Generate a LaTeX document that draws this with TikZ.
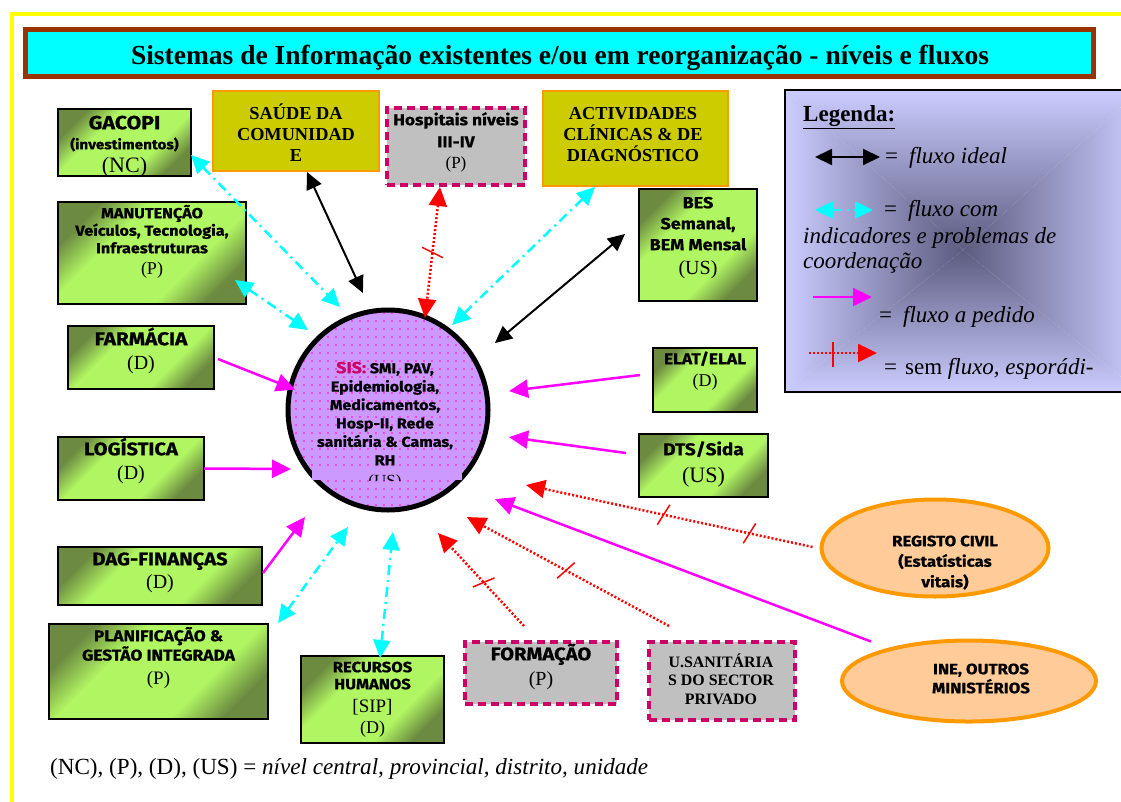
\documentclass[tikz,border=0pt]{standalone}
\usepackage{fontspec}
\setmainfont{Liberation Serif}
\newfontfamily\sbf{Fira Sans}[FakeStretch=1.12, BoldFeatures={FakeBold=0.8}]
\usetikzlibrary{arrows.meta,shapes.geometric,fit,patterns.meta,decorations.markings}
\definecolor{glight}{RGB}{176,245,98}
\definecolor{gdark}{RGB}{108,138,64}
\definecolor{olivef}{RGB}{204,204,0}
\definecolor{orangeb}{RGB}{255,153,0}
\definecolor{greyf}{RGB}{192,192,192}
\definecolor{dashc}{RGB}{204,0,102}
\definecolor{cyanc}{RGB}{0,255,255}
\definecolor{brownc}{RGB}{153,51,0}
\definecolor{legl}{RGB}{204,204,255}
\definecolor{legm}{RGB}{148,148,192}
\definecolor{legd}{RGB}{92,92,128}
\definecolor{peach}{RGB}{255,204,153}
\definecolor{sislav}{RGB}{204,153,255}
\definecolor{dotc}{RGB}{255,0,204}
\definecolor{magc}{RGB}{255,0,255}
\definecolor{redc}{RGB}{255,0,0}
\definecolor{sisred}{RGB}{204,0,102}
\definecolor{framey}{RGB}{255,255,0}
\newcommand\fz[2]{\fontsize{#1}{#2}\selectfont}
\newcommand\sbt[2]{{\sbf\bfseries\fontsize{#1}{#1}\selectfont #2}}
\newcommand\rmt[2]{{\fontsize{#1}{#1}\selectfont #2}}
\newcommand\rbt[2]{{\bfseries\fontsize{#1}{#1}\selectfont #2}}
\newcommand\fst{\rule{0pt}{20pt}}
\pgfdeclareverticalshading{legv}{100bp}{color(0bp)=(legd); color(25bp)=(legd); color(50bp)=(legm); color(75bp)=(legl); color(100bp)=(legl)}
\pgfdeclareverticalshading{gsh}{100bp}{color(0bp)=(gdark); color(25bp)=(gdark); color(37bp)=(glight); color(63bp)=(glight); color(75bp)=(gdark); color(100bp)=(gdark)}
\tikzset{
  box/.style={inner sep=0pt, outer sep=0pt},
  greenbox/.style={box, draw=black, line width=2.5pt, shading=gsh, shading angle=45},
  olivebox/.style={box, draw=orangeb, line width=2pt, fill=olivef},
  greybox/.style={box, draw=dashc, line width=3.5pt, dash pattern=on 8pt off 5pt, fill=greyf},
  ell/.style={ellipse, box, draw=orangeb, line width=4pt, fill=peach},
  txt/.style={align=center, inner sep=0pt, anchor=north},
  lt/.style={inner sep=0pt, anchor=base west, font=\fz{23}{26}},
  ideal/.style={draw=black, line width=2pt, <->, >={Triangle[length=17pt,width=16pt]}},
  coordf/.style={draw=cyanc, line width=2.5pt, dash pattern=on 10pt off 5pt on 2pt off 5pt, <->, >={Triangle[length=18pt,width=17pt]}},
  pedido/.style={draw=magc, line width=2.5pt, ->, >={Triangle[length=19pt,width=18pt]}},
  semfluxo/.style={draw=redc, line width=2.5pt, dash pattern=on 2pt off 2pt, >={Triangle[length=19pt,width=18pt]}},
  tick/.style={postaction={decorate, decoration={markings, mark=at position #1 with {\draw[redc, line width=1.5pt, solid, -] (-4pt,-11pt) -- (4pt,11pt);}}}},
}
\begin{document}
\begin{tikzpicture}[x=1pt, y=-1pt]
\useasboundingbox (0,0) rectangle (1121,801);
\fill[white] (0,0) rectangle (1121,801);
\draw[framey, line width=4pt] (12,14) rectangle (1140,820);
% title
\node[box, fit={(25,29)(1093.5,76)}, draw=brownc, fill=cyanc, line width=5pt] (title) {};
\node[anchor=base, inner sep=0pt, font=\fz{27.5}{30}\bfseries] (titleT) at (560,64) {Sistemas de Informação existentes e/ou em reorganização - níveis e fluxos};
% legend
\shade[shading=legv] (785,90) -- (1140,90) -- (963,250) -- cycle;
\shade[shading=legv, shading angle=180] (785,392) -- (1140,392) -- (963,250) -- cycle;
\shade[shading=legv, shading angle=90] (785,90) -- (785,392) -- (963,250) -- cycle;
\shade[shading=legv, shading angle=-90] (1140,90) -- (1140,392) -- (963,250) -- cycle;
\node[box, fit={(785,90)(1140,392)}, draw=black, line width=1.5pt] (legend) {};
\node[lt] (legT) at (803,121.5) {\textbf{\underline{Legenda:}}};
\coordinate (l1a) at (815,157); \coordinate (l1b) at (880,157);
\coordinate (l2a) at (815,210); \coordinate (l2b) at (873,210);
\coordinate (l3a) at (813,297); \coordinate (l3b) at (872,297);
\coordinate (l4a) at (809,353); \coordinate (l4b) at (877,353);
\draw[ideal] (l1a) -- (l1b);
\draw[coordf] (l2a) -- (l2b);
\draw[pedido] (l3a) -- (l3b);
\draw[semfluxo, ->] (l4a) -- (l4b);
\draw[redc, line width=1.5pt] (833,342) -- (833,367);
\node[lt] (leg1) at (885,163) {=\hspace{11pt}\textit{fluxo ideal}};
\node[lt] (leg2) at (884,216) {=\hspace{11pt}\textit{fluxo com}};
\node[lt] (leg2b) at (803,243) {\textit{indicadores e problemas de}};
\node[lt] (leg2c) at (803,268) {\textit{coordenação}};
\node[lt] (leg3) at (879,322) {=\hspace{11pt}\textit{fluxo a pedido}};
\node[lt] (leg4) at (884,374) {=\hspace{8pt}sem \textit{fluxo, esporádi-}};
% green boxes
\node[greenbox, fit={(58,109)(191,176)}] (gacopi) {};
\node[greenbox, fit={(58,202)(246,304)}] (manut) {};
\node[greenbox, fit={(68,326)(214,389)}] (farm) {};
\node[greenbox, fit={(58,437)(204,500)}] (log) {};
\node[greenbox, fit={(58,547)(262,605)}] (dag) {};
\node[greenbox, fit={(49,624)(268,719)}] (planif) {};
\node[greenbox, fit={(301,656)(444,743)}] (rec) {};
\node[greenbox, fit={(639,189)(757,301)}] (bes) {};
\node[greenbox, fit={(653,348)(757,412)}] (elat) {};
\node[greenbox, fit={(639,434)(768,497)}] (dts) {};
% other boxes
\node[olivebox, fit={(213,91)(379,171)}] (saude) {};
\node[olivebox, fit={(543,91)(728,186)}] (act) {};
\node[greybox, fit={(387,108)(525,185)}] (hosp) {};
\node[greybox, fit={(465,642)(617,704)}] (form) {};
\node[greybox, fit={(649,642)(795,720)}] (usan) {};
\node[ell, minimum width=227pt, minimum height=97pt] (reg) at (935,548) {};
\node[ell, minimum width=254pt, minimum height=81pt] (ine) at (969,681) {};
% central circle
\node[circle, box, minimum size=200pt, line width=5pt, draw=black, preaction={fill=sislav}, preaction={pattern={Dots[distance=8pt, radius=0.8pt]}, pattern color=dotc}] (sis) at (388,410) {};
\fill[sislav] (312,466) rectangle (462,480);
% box texts
\node[txt, font=\fz{17}{20}] (gacopiT) at (124.5,109) {\fst\sbt{19}{GACOPI}\\\sbt{13.6}{(investimentos)}\\[3pt]\rmt{22}{(NC)}};
\node[txt, font=\fz{14}{17.5}] (manutT) at (152,198) {\fst\sbt{14.5}{MANUTENÇÃO}\\\sbt{14.5}{Veículos, Tecnologia,}\\\sbt{14.5}{Infraestruturas}\\[3.5pt]\rmt{18}{(P)}};
\node[txt, font=\fz{16}{24}] (farmT) at (141,325) {\fst\sbt{18.5}{FARMÁCIA}\\\rmt{20}{(D)}};
\node[txt, font=\fz{16}{24}] (logT) at (131,435) {\fst\sbt{18}{LOGÍSTICA}\\\rmt{20}{(D)}};
\node[txt, font=\fz{16}{23}] (dagT) at (160,545) {\fst\sbt{18}{DAG-FINANÇAS}\\\rmt{20}{(D)}};
\node[txt, font=\fz{14}{17}] (planifT) at (158.5,621) {\fst\sbt{15.5}{PLANIFICAÇÃO \&}\\\sbt{15.5}{GESTÃO INTEGRADA}\\[7pt]\rmt{19}{(P)}};
\node[txt, font=\fz{14}{17}] (recT) at (372.5,652) {\fst\sbt{14.8}{RECURSOS}\\\sbt{14.8}{HUMANOS}\\[6pt]\rmt{19}{[SIP]}\\[4pt]\rmt{18}{(D)}};
\node[txt, font=\fz{14}{21}] (besT) at (698,188) {\fst\sbt{16}{BES}\\\sbt{16}{Semanal,}\\\sbt{16}{BEM Mensal}\\[3pt]\rmt{20}{(US)}};
\node[txt, font=\fz{13}{22}] (elatT) at (705,344) {\fst\sbt{15.5}{ELAT/ELAL}\\\rmt{18}{(D)}};
\node[txt, font=\fz{17}{27}] (dtsT) at (703.5,435) {\fst\sbt{17}{DTS/Sida}\\\rmt{22}{(US)}};
\node[txt, font=\fz{14}{22}] (hospT) at (456,105) {\fst\sbt{15.5}{Hospitais níveis}\\\sbt{15.5}{III-IV}\\[-1pt]\rmt{17}{(P)}};
\node[txt, font=\fz{18.3}{21}] (saudeT) at (296,99) {\fst\rbt{18.3}{SAÚDE DA}\\\rbt{18.3}{COMUNIDAD}\\\rbt{18.3}{E}};
\node[txt, font=\fz{18.3}{21}] (actT) at (633,99) {\fst\rbt{18.3}{ACTIVIDADES}\\\rbt{18.3}{CLÍNICAS \& DE}\\\rbt{18.3}{DIAGNÓSTICO}};
\node[txt, font=\fz{14.5}{18.4}] (sisT) at (385,353) {\fst{\sbf\bfseries\fontsize{16}{16}\selectfont\color{sisred}SIS:} \sbt{14.3}{SMI, PAV,}\\\sbt{14.3}{Epidemiologia,}\\\sbt{14.3}{Medicamentos,}\\\sbt{14.3}{Hosp-II, Rede}\\\sbt{14.3}{sanitária \& Camas,}\\\sbt{14.3}{RH}};
\begin{scope}
\clip (300,440) rectangle (480,480);
\node[anchor=base, inner sep=0pt, font=\fz{17}{17}] (sisUS) at (385,486) {(US)};
\end{scope}
\node[txt, font=\fz{14.5}{20.5}] (regT) at (945,526) {\fst\sbt{15}{REGISTO CIVIL}\\\sbt{15}{(Estatísticas}\\\sbt{15}{vitais)}};
\node[txt, font=\fz{14.5}{19}] (ineT) at (981,654) {\fst\sbt{15}{INE, OUTROS}\\\sbt{15}{MINISTÉRIOS}};
\node[txt, font=\fz{17}{25}] (formT) at (541,640) {\fst\sbt{18}{FORMAÇÃO}\\\rmt{20}{(P)}};
\node[txt, font=\fz{15}{18.5}] (usanT) at (721,647) {\fst\rbt{15.9}{U.SANITÁRIA}\\\rbt{15.9}{S DO SECTOR}\\\rbt{15.9}{PRIVADO}};
% footnote
\node[anchor=base west, inner sep=0pt, font=\fz{23.1}{26}] (foot) at (50,774) {(NC), (P), (D), (US) = \textit{nível central, provincial, distrito, unidade}};
% connectors
\draw[ideal] ([shift={(11,1)}]saude.south) -- ([shift={(-102.1:119.6)}]sis.center);
\draw[ideal] ([shift={(-14,-11)}]bes.west) -- ([shift={(-32.05:126.2)}]sis.center);
\draw[coordf] ([shift={(0,12.5)}]gacopi.east) -- ([shift={(-115:113.6)}]sis.center);
\draw[coordf] ([shift={(-11,-24)}]manut.south east) -- ([shift={(-135:113.1)}]sis.center);
\draw[coordf] ([shift={(-40.5,1)}]act.south) -- ([shift={(-53:106.4)}]sis.center);
\draw[coordf] ([shift={(10,-1)}]planif.north east) -- ([shift={(108.9:123.6)}]sis.center);
\draw[coordf] ([shift={(7.5,2)}]rec.north) -- ([shift={(87.7:122.1)}]sis.center);
\draw[semfluxo, <->, tick=0.5] ([shift={(-16,2)}]hosp.south) -- ([shift={(-68.1:99.2)}]sis.center);
\draw[semfluxo, ->, tick=0.22, tick=0.52] ([shift={(-9,-1)}]reg.west) -- ([shift={(28.5:157.1)}]sis.center);
\draw[semfluxo, ->, tick=0.51] ([shift={(-53,-16)}]usan.north) -- ([shift={(53.6:133)}]sis.center);
\draw[semfluxo, ->, tick=0.47] ([shift={(-17,-16)}]form.north) -- ([shift={(67.9:132.8)}]sis.center);
\draw[pedido] ([shift={(4,1.5)}]farm.east) -- ([shift={(-167.6:95)}]sis.center);
\draw[pedido] (log.east) -- ([shift={(148.7:113.5)}]sis.center);
\draw[pedido] ([shift={(1,-3)}]dag.east) -- ([shift={(127.8:135.4)}]sis.center);
\draw[pedido] ([shift={(-13,-5)}]elat.west) -- ([shift={(-8.9:122.5)}]sis.center);
\draw[pedido] ([shift={(-13,-12.5)}]dts.west) -- ([shift={(12.6:124)}]sis.center);
\draw[pedido] ([shift={(-98,1)}]ine.north) -- ([shift={(39.8:139.2)}]sis.center);
\end{tikzpicture}
\end{document}
